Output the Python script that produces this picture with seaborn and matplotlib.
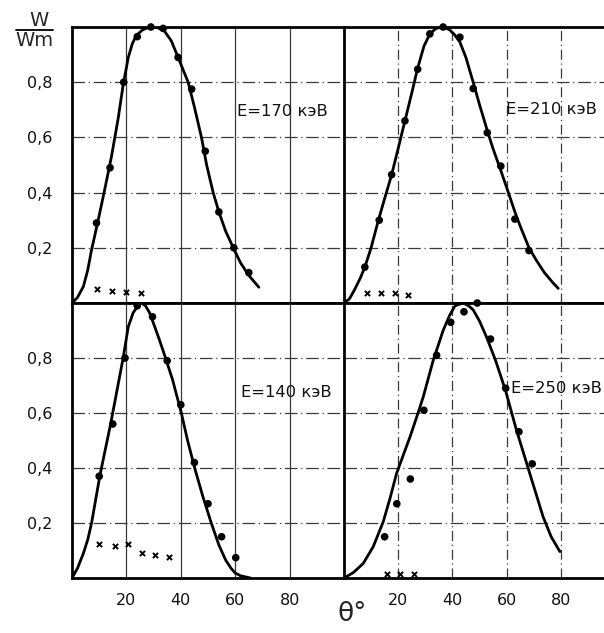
import numpy as np
import pandas as pd
import matplotlib
matplotlib.use("Agg")
import matplotlib.pyplot as plt
import seaborn as sns
from matplotlib.lines import Line2D

sns.set_theme(style="white")
plt.rcParams['font.family'] = ['DejaVu Sans']

# ---------------- data ----------------
# E = 170 keV (top-left)
curve170_x = [0, 2, 4.2, 5.8, 7.2, 9.3, 12, 14.5, 17, 18.8, 20.7, 22.2, 23.7, 26, 28.6, 31, 34, 36.5, 39, 42.7, 45, 47.6, 49.5, 51.9, 54, 56.5, 59.3, 62, 65, 68.7]
curve170_y = [0, 0.02, 0.06, 0.12, 0.193, 0.285, 0.41, 0.53, 0.67, 0.79, 0.89, 0.94, 0.97, 0.99, 1.0, 1.0, 0.985, 0.95, 0.89, 0.8, 0.71, 0.6, 0.5, 0.4, 0.33, 0.26, 0.2, 0.145, 0.1, 0.057]
pts170_x = [9, 14, 19, 24, 29, 33.5, 39, 44, 49, 54, 59.5, 65]
pts170_y = [0.29, 0.49, 0.80, 0.965, 1.0, 0.995, 0.89, 0.775, 0.55, 0.33, 0.20, 0.11]
cross170_x = [9.3, 14.6, 19.8, 25.3]
cross170_y = [0.05, 0.045, 0.04, 0.035]

# E = 210 keV (top-right)
curve210_x = [0, 2, 4, 6, 7.7, 10, 12.7, 15.2, 17.6, 20, 22.5, 25, 27.1, 29.5, 31.7, 34, 36.6, 39, 41, 42.8, 45, 47.7, 50, 52.9, 55, 57.9, 60, 63.1, 65, 68.3, 71, 74, 77, 79.1]
curve210_y = [0, 0.015, 0.05, 0.09, 0.13, 0.2, 0.3, 0.385, 0.465, 0.56, 0.66, 0.76, 0.847, 0.93, 0.975, 0.995, 1.0, 0.99, 0.97, 0.945, 0.89, 0.8, 0.72, 0.625, 0.56, 0.48, 0.42, 0.33, 0.28, 0.2, 0.155, 0.11, 0.075, 0.053]
pts210_x = [7.7, 13, 17.6, 22.5, 27.2, 31.7, 36.6, 42.8, 47.7, 52.9, 57.9, 63.1, 68.3]
pts210_y = [0.13, 0.30, 0.465, 0.66, 0.847, 0.975, 1.0, 0.963, 0.777, 0.617, 0.496, 0.304, 0.19]
cross210_x = [8.4, 13.5, 18.8, 23.7]
cross210_y = [0.037, 0.035, 0.035, 0.03]

# E = 140 keV (bottom-left)
curve140_x = [0, 2, 4.2, 5.8, 7.2, 10.3, 14.2, 16.5, 18.8, 20.7, 22.5, 24.3, 25.5, 27, 28.5, 30, 32, 34.4, 37, 40.2, 42.5, 45.1, 48, 51.2, 54, 56.5, 58.5, 60, 62, 65.6]
curve140_y = [0, 0.035, 0.09, 0.14, 0.2, 0.375, 0.56, 0.68, 0.8, 0.914, 0.965, 0.99, 1.0, 0.99, 0.965, 0.925, 0.87, 0.8, 0.72, 0.6, 0.5, 0.4, 0.3, 0.2, 0.12, 0.065, 0.035, 0.018, 0.008, 0.0]
pts140_x = [10, 15, 19.5, 24, 29.6, 35, 40, 45, 50, 55, 60.2]
pts140_y = [0.37, 0.56, 0.80, 0.99, 0.95, 0.79, 0.63, 0.42, 0.27, 0.15, 0.074]
cross140_x = [9.9, 15.8, 20.7, 25.6, 30.5, 35.7]
cross140_y = [0.122, 0.117, 0.122, 0.09, 0.084, 0.078]

# E = 250 keV (bottom-right)
curve250_x = [0, 3.5, 7.1, 10.8, 14.5, 17, 19.4, 22, 24.4, 27, 29.3, 32.9, 36.6, 39, 41, 44, 46, 47.7, 50, 52.6, 56, 59.7, 63.7, 68.6, 73.5, 76.5, 79.7]
curve250_y = [0, 0.02, 0.053, 0.114, 0.205, 0.29, 0.38, 0.45, 0.514, 0.59, 0.66, 0.79, 0.9, 0.955, 0.99, 1.0, 0.99, 0.975, 0.935, 0.877, 0.79, 0.68, 0.537, 0.38, 0.223, 0.15, 0.096]
pts250_x = [15, 19.5, 24.5, 29.5, 34.2, 39.4, 44.3, 49.2, 54.1, 59.7, 64.6, 69.5]
pts250_y = [0.15, 0.27, 0.36, 0.61, 0.81, 0.93, 0.968, 1.0, 0.869, 0.69, 0.532, 0.415]
cross250_x = [15.7, 20.7, 25.8]
cross250_y = [0.015, 0.015, 0.015]

labels = ["E=170 кэВ", "E=210 кэВ", "E=140 кэВ", "E=250 кэВ"]
label_pos = [(60.7, 0.695), (60.0, 0.70), (62.0, 0.676), (61.5, 0.69)]
xticks = [20, 40, 60, 80]
yticks = [0.2, 0.4, 0.6, 0.8]
ytick_labels = ["0,2", "0,4", "0,6", "0,8"]

# ---------------- figure ----------------
W, H = 604, 633
fig = plt.figure(figsize=(W / 100, H / 100), dpi=100)
fig.patch.set_facecolor("white")

def px_axes(x0, x1, y0, y1):
    return fig.add_axes([x0 / W, 1 - y1 / H, (x1 - x0) / W, (y1 - y0) / H])

ax_tl = px_axes(72, 344, 27, 303)
ax_tr = px_axes(344, 604, 27, 303)
ax_bl = px_axes(72, 344, 303, 578)
ax_br = px_axes(344, 604, 303, 578)

panels = [
    (ax_tl, curve170_x, curve170_y, pts170_x, pts170_y, cross170_x, cross170_y, True, False),
    (ax_tr, curve210_x, curve210_y, pts210_x, pts210_y, cross210_x, cross210_y, False, False),
    (ax_bl, curve140_x, curve140_y, pts140_x, pts140_y, cross140_x, cross140_y, True, True),
    (ax_br, curve250_x, curve250_y, pts250_x, pts250_y, cross250_x, cross250_y, False, True),
]

for i, (ax, cx, cy, px, py, kx, ky, is_left, is_bottom) in enumerate(panels):
    ax.set_facecolor("white")
    if is_left:
        ax.set_xlim(0, 100)
    else:
        ax.set_xlim(0, 96)
    ax.set_ylim(0, 1.0)

    # grid
    for xv in xticks:
        ax.axvline(xv, color="#3a3a3a", lw=0.9,
                   ls="-" if is_left else (0, (8, 3, 1, 3)), zorder=1)
    for yv in yticks:
        ax.axhline(yv, color="#3a3a3a", lw=0.9, ls=(0, (10, 3, 1, 3)), zorder=1)

    dfc = pd.DataFrame({"theta": cx, "w": cy})
    sns.lineplot(data=dfc, x="theta", y="w", ax=ax, color="black", lw=2.0,
                 sort=False, estimator=None, zorder=3)
    for ln in ax.get_lines():
        ln.set_solid_joinstyle("round")
        ln.set_solid_capstyle("round")
    dfp = pd.DataFrame({"theta": px, "w": py})
    sns.scatterplot(data=dfp, x="theta", y="w", ax=ax, color="black", s=30,
                    edgecolor="none", zorder=4, clip_on=False)
    dfk = pd.DataFrame({"theta": kx, "w": ky})
    sns.scatterplot(data=dfk, x="theta", y="w", ax=ax, color="black", marker="x",
                    s=14, linewidth=1.4, zorder=4, clip_on=False)

    lx, ly = label_pos[i]
    ax.text(lx, ly, labels[i], fontsize=11.8, color="#111111", ha="left",
            va="center", zorder=5)

    ax.set_xlabel("")
    ax.set_ylabel("")
    ax.set_xticks(xticks)
    ax.set_yticks(yticks)
    if is_bottom:
        ax.set_xticklabels([str(t) for t in xticks], fontsize=11.5, color="#111111")
    else:
        ax.set_xticklabels([])
    if is_left:
        ax.set_yticklabels(ytick_labels, fontsize=11.5, color="#111111")
    else:
        ax.set_yticklabels([])
    ax.tick_params(axis="both", length=0)
    ax.tick_params(axis="x", pad=11)
    ax.tick_params(axis="y", pad=14)

    for side, sp in ax.spines.items():
        sp.set_color("black")
        sp.set_linewidth(2.0)
    ax.spines["right"].set_visible(False)

# axis label W/Wm
fig.text(39 / W, 1 - 20 / H, "W", fontsize=14, ha="center", va="center")
fig.add_artist(Line2D([16 / W, 53 / W], [1 - 30 / H, 1 - 30 / H], color="black", lw=1.3))
fig.text(34 / W, 1 - 41 / H, "Wm", fontsize=14, ha="center", va="center")

# theta label
fig.text(352 / W, 1 - 614 / H, "θ°", fontsize=19, ha="center", va="center")

fig.savefig("out.png", dpi=100, facecolor="white")
